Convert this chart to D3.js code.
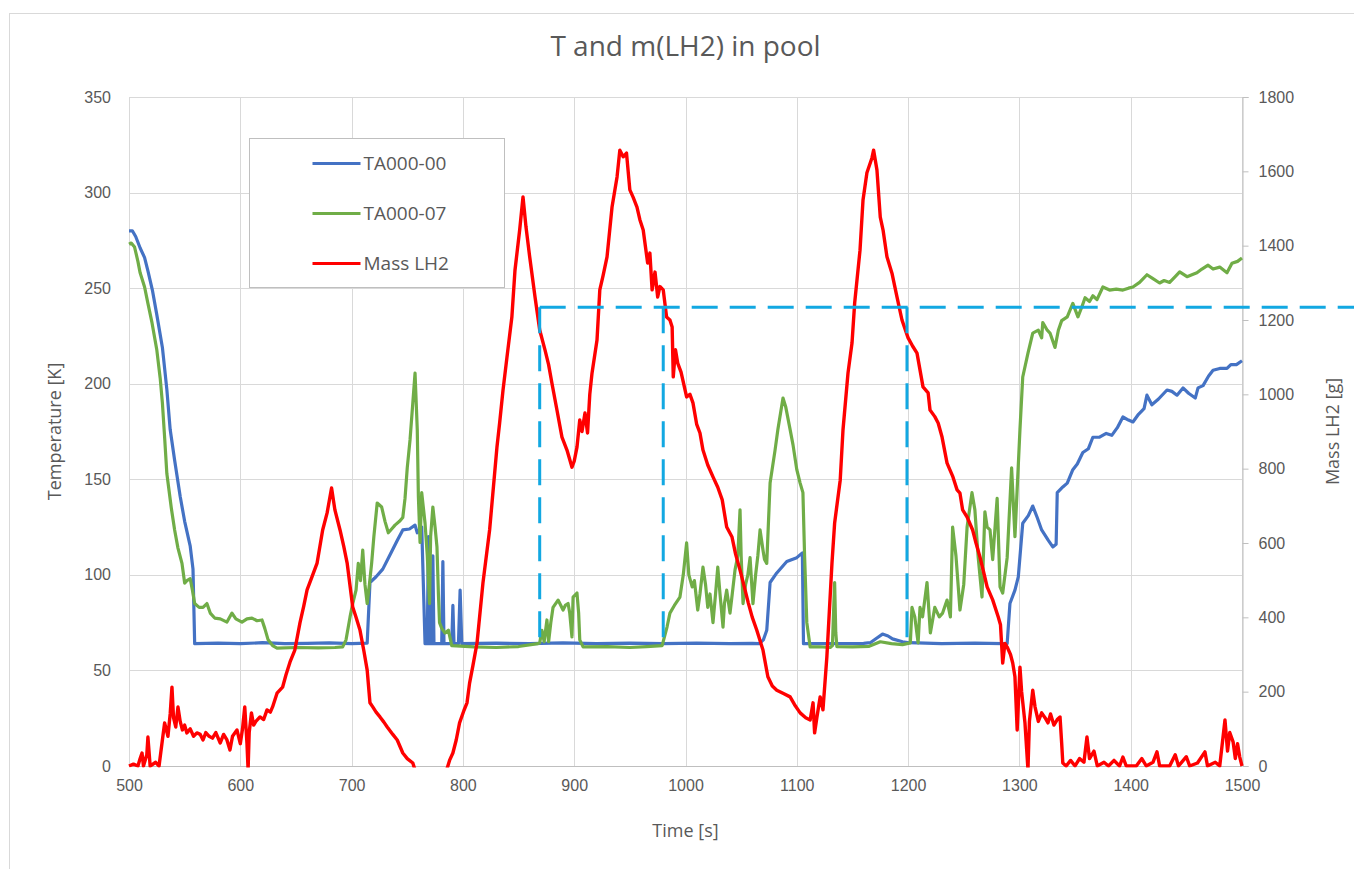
<html lang="en">
<head>
    <meta charset="UTF-8">
    <title>T and m(LH2) in pool</title>
    <script src="https://d3js.org/d3.v7.min.js"></script>
    <style>
        body { margin: 0; background: #fff; }
        svg { font-family: "Open Sans", sans-serif; }
    </style>
</head>
<body>
<script>
// data: [time s, value]
const ta00 = [[500,280],[503,280],[506,277],[510,271],[514,266],[517,259],[521,249],[525,236],[530,219],[534,197],[537,176],[541,160],[546,141],[550,128],[555,115],[557.5,103],[559,64],[580,64.3],[600,64],[620,64.5],[640,64],[660,64.2],[680,64.4],[700,64],[714,64.3],[716.5,96],[722,99],[728,103],[735,111],[741,118],[746,123.5],[752,124],[757,126],[759,122],[763,125],[766,64],[768,64],[769,120],[770,64],[772,64],[773,110],[774,64],[781,64],[782,107],[783,64],[790,64],[791,84],[792,64],[796,64],[797.5,92],[799,64],[830,64.3],[860,64],[890,64.4],[920,64],[950,64.3],[980,64],[1010,64.3],[1040,64],[1060,64.2],[1066,64],[1070,66],[1073,71],[1076,96],[1082,101],[1091,107],[1100,109],[1105,111.5],[1106,64],[1130,64],[1160,64.2],[1166,64.5],[1172,67],[1177,69],[1182,68],[1186,66.5],[1195,65],[1201,64.5],[1230,64],[1260,64.3],[1285,64],[1289,64],[1291.5,85],[1296,92],[1299,99],[1303,127],[1308,131],[1312,136],[1316,130],[1320,123.5],[1326,118],[1330,114.6],[1333,116],[1334,143],[1339,146],[1343,148],[1348,155],[1352,158],[1357,164],[1362,166],[1366,172],[1372,172],[1378,174],[1383,173],[1388,177],[1393,182.6],[1398,181],[1402,180],[1407,184],[1412,187],[1414.6,194],[1419,189],[1425,192],[1432.6,196.7],[1437,196],[1441.6,194],[1447,197.8],[1452,195],[1458,192.5],[1460.5,197.8],[1465,199],[1470,204],[1474,207],[1480,208],[1486.5,208],[1490,210],[1495,210],[1500,212]];

const ta07 = [[500,273],[502,273.6],[505,271.5],[508,264],[510,258],[514,250.6],[517,242],[520.7,231.8],[525,217.6],[528,203],[530,190],[532,172],[534,153],[538,135],[541,123.5],[544,114],[547.6,106],[550,95.7],[552,97],[555,98],[557,92],[559,85],[563,83],[566.5,83],[570,85],[573,80],[577,77.4],[582,77],[588,75.3],[592.5,80],[596,77],[601.5,75.3],[606,77],[610.5,77.4],[615,76],[619.5,76.4],[622,72],[625,66],[629,63],[633,61.7],[650,62],[670,61.8],[685,62],[692,62.3],[695,66],[698.6,78],[701,85],[704,92],[706,106],[708,97],[710,113],[712,95],[714,85],[716,95],[718,106],[720,120],[723,137.6],[727,135.5],[730,128],[733,122],[736,124],[739,126],[743,128],[746,130],[748,140],[750,156],[752.5,170.6],[755,190],[757,205.6],[759,176],[760,141],[761.5,117],[763,143],[764.5,135],[766,127],[768,110],[770,85],[771,120],[773,135.5],[775,125],[776.7,114.6],[778,90],[779,75],[781,72],[784,69.6],[787,71],[790,63],[810,62.3],[830,62],[850,62.5],[867.5,64],[869,64.4],[871,71],[873,65],[875.5,76.4],[877,65],[879,75],[881,83],[885.5,86.8],[888,84],[890,81.6],[892,84],[894.5,85],[896,80],[898,67.5],[899,88.4],[902.5,90.5],[904,80],[905,66],[908,62.3],[930,62.5],[950,62],[965,62.5],[979,63],[983.4,72.7],[986,80],[990,84],[995,88.4],[998,100],[1001,116.7],[1003,100],[1006,93.7],[1008,97],[1011,81.6],[1013,90],[1015.7,104],[1018,95],[1020,83],[1022,90],[1024.7,75],[1027,90],[1029,104],[1031,90],[1033.7,72.7],[1035,85],[1037,92],[1040,80],[1042,90],[1044.5,102.6],[1047,110],[1049,134],[1050,110],[1051.7,85],[1054,95],[1056,100],[1058,109],[1060.6,85],[1063,100],[1065,110],[1067,123.5],[1069.6,113],[1071,108],[1073,106],[1076,148],[1080.4,165],[1083,176],[1087.6,192.5],[1090,188],[1094,176],[1096.6,168],[1100,155],[1103,148],[1105.5,143],[1107,110],[1109,75],[1112,62.3],[1120,62.4],[1130,62],[1132,63],[1133,80],[1134,96],[1135,70],[1136,62.5],[1150,62.3],[1165,62.6],[1175,65],[1185,64],[1195,63.5],[1202,64.4],[1203.5,83],[1206,78],[1209,64.4],[1210.7,83],[1213,78],[1217,96],[1220,69.6],[1224,83],[1228,78],[1231,80],[1235,86.8],[1238,78],[1240,125],[1243,110],[1246.6,81.6],[1250,95],[1253,125],[1257.4,143],[1260,134],[1263,109],[1266.4,88.4],[1269,133],[1271,125],[1273.6,123.5],[1276,108],[1280,140],[1282.6,93.7],[1285,90.5],[1289,109],[1293,156],[1296,120],[1300.5,176],[1303,203.5],[1307.7,216],[1312,226.5],[1317,228],[1320,224],[1321,232],[1325,228],[1327.5,226.5],[1332,219],[1335,228],[1338,233],[1343,235],[1348,242],[1352.6,235],[1356,240],[1359,245],[1363,243],[1366,246],[1369.7,244],[1375,250.6],[1381,249],[1387,249.5],[1393,249],[1398,250],[1402,250.6],[1408,253],[1414.6,257],[1420,255],[1426,252.7],[1430,254],[1435,253],[1440,256],[1444,258.5],[1450.6,256],[1455,257],[1459.5,258],[1464,260],[1469.5,262],[1474,260],[1480,261],[1486.5,258],[1491,263],[1496,264],[1500,265.8]];

const massLH2 = [[500,0],[504,5],[508,0],[510,20],[511.7,35],[513,0],[516,30],[517,78],[519,0],[524,10],[527,0],[530,70],[532,116],[535,80],[537,140],[538.6,212],[540,130],[542,105],[544,159],[546,120],[548,97],[550,110],[552,89],[555,100],[558,80],[561,89],[564,85],[566.5,70],[569,90],[572,80],[575,75],[578,90],[582,62],[585,85],[588,70],[590.7,43],[593,80],[597,97],[600,60],[602,100],[604,159],[606,60],[607,-10],[608,90],[610,143],[612,110],[614,120],[617.7,132],[621,125],[624,151],[627,145],[629,159],[633,196],[638,212],[641,245],[644.7,280],[649,312],[653.6,385],[657,430],[660,474],[664.4,509],[669,546],[674,635],[678,681],[682,748],[685,689],[689.6,635],[693,590],[696,546],[701,428],[704,400],[707.5,366],[711,310],[714,258],[716.5,170],[719,159],[722,145],[725.5,132],[729,118],[732,105],[737,85],[741,70],[746,35],[750,20],[755,8],[758,-20],[770,-60],[782,-30],[786,-5],[788,15],[791,35],[794,70],[797,116],[801,150],[803.7,170],[806,223],[809,270],[812.7,331],[818,492],[824,635],[830.6,858],[833,923],[836,1010],[839.6,1100],[844,1208],[846.8,1334],[851,1442],[854,1531],[856.7,1450],[860,1370],[864.8,1262],[869,1173],[873.8,1119],[877,1080],[880,1030],[884.5,958],[889,885],[893.5,850],[898,804],[900,820],[902.5,858],[905,931],[907,900],[909.7,950],[912,896],[914,1000],[916,1057],[920.5,1146],[923,1281],[926,1320],[929.5,1370],[934,1504],[938.5,1585],[941,1657],[944,1639],[947,1649],[950,1550],[953,1530],[956.4,1504],[959,1470],[962,1442],[966,1353],[968,1380],[970,1281],[972.6,1329],[975,1262],[977,1290],[980,1281],[983,1208],[986,1200],[988,1181],[989,1047],[991,1120],[993,1084],[996,1060],[1001,993],[1004,1000],[1006.7,977],[1010,920],[1013,896],[1015.7,850],[1020,810],[1024.7,778],[1029,750],[1033,716],[1037,643],[1041.8,616],[1045,570],[1049,527],[1053,480],[1056.4,439],[1060,400],[1064,366],[1069.6,312],[1074,240],[1078,215],[1082,204],[1088,195],[1094,186],[1098,165],[1103,143],[1108,130],[1112,124],[1114.6,170],[1116,89],[1118,130],[1121,186],[1123.5,151],[1127,293],[1131.6,546],[1134,654],[1139,769],[1141.5,904],[1146,1057],[1149.6,1138],[1152,1246],[1156.8,1388],[1159.5,1523],[1163,1596],[1167.5,1636],[1169,1657],[1172,1604],[1175,1477],[1177.5,1442],[1181,1370],[1185.5,1326],[1190,1262],[1194.5,1200],[1200,1152],[1204,1130],[1208,1111],[1213.4,1020],[1218,1004],[1219.7,958],[1224,940],[1227,923],[1230.5,885],[1235,815],[1240,780],[1244,743],[1246.6,734],[1249,689],[1253,670],[1258,635],[1261,600],[1264.6,562],[1268,520],[1271,482],[1276,447],[1281,401],[1283,380],[1285,277],[1287,330],[1289,320],[1292,300],[1294,277],[1296,240],[1298,97],[1300.5,266],[1302,200],[1305,116],[1307.7,-10],[1309,120],[1312,204],[1314,160],[1317,120],[1320,143],[1323,130],[1325.7,116],[1328,140],[1331,110],[1334,125],[1336.5,132],[1338,60],[1339,8],[1342,0],[1346,15],[1350,0],[1354,20],[1358,10],[1360.7,78],[1363,20],[1367,40],[1370,0],[1376,10],[1380,0],[1385,15],[1390,0],[1393,24],[1396,0],[1405,0],[1410,20],[1414,0],[1420,10],[1423.6,38],[1426,0],[1435,0],[1440,30],[1443,0],[1450,25],[1453,0],[1460,8],[1466.7,38],[1469,0],[1476,10],[1480,0],[1484.7,124],[1487,40],[1489,90],[1492,65],[1494,20],[1496,60],[1498,24],[1500,0]];

// dashed marker: 240 K level and the times where it was hit
const markLevel = 240;
const markBase = 64;
const markTimes = [869, 980, 1199];

const xTicks = [500, 600, 700, 800, 900, 1000, 1100, 1200, 1300, 1400, 1500];
const tTicks = [0, 50, 100, 150, 200, 250, 300, 350];
const mTicks = [0, 200, 400, 600, 800, 1000, 1200, 1400, 1600, 1800];

const legendData = [
    { label: "TA000-00", color: "#4472C4" },
    { label: "TA000-07", color: "#70AD47" },
    { label: "Mass LH2", color: "#FF0000" }
];

const width = 1354, height = 869;
const margin = { top: 97, right: 112, bottom: 103, left: 129 };
const textColor = "#595959";

const x = d3.scaleLinear().domain([500, 1500]).range([margin.left, width - margin.right]);
const yT = d3.scaleLinear().domain([0, 350]).range([height - margin.bottom, margin.top]);
const yM = d3.scaleLinear().domain([0, 1800]).range([height - margin.bottom, margin.top]);

const svg = d3.select("body").append("svg")
    .attr("width", width)
    .attr("height", height);

svg.append("clipPath").attr("id", "plot")
    .append("rect")
    .attr("x", x(500) - 3).attr("y", yT(350) - 3)
    .attr("width", x(1500) - x(500) + 6).attr("height", yT(0) - yT(350) + 4.5);

// chart frame
svg.append("rect")
    .attr("x", 9.5).attr("y", 13.5)
    .attr("width", width + 20).attr("height", height + 20)
    .attr("fill", "none").attr("stroke", "#d9d9d9");

// gridlines
svg.append("g").selectAll("line").data(tTicks).join("line")
    .attr("x1", x(500)).attr("x2", x(1500))
    .attr("y1", d => Math.round(yT(d)) + 0.5).attr("y2", d => Math.round(yT(d)) + 0.5)
    .attr("stroke", "#d9d9d9");
svg.append("g").selectAll("line").data(xTicks).join("line")
    .attr("y1", yT(0)).attr("y2", yT(350))
    .attr("x1", d => Math.round(x(d)) + 0.5).attr("x2", d => Math.round(x(d)) + 0.5)
    .attr("stroke", "#d9d9d9");

// bottom axis line
svg.append("line")
    .attr("x1", x(500)).attr("x2", x(1500))
    .attr("y1", Math.round(yT(0)) + 0.5).attr("y2", Math.round(yT(0)) + 0.5)
    .attr("stroke", "#bfbfbf");

// right axis
const rightAxis = svg.append("g")
    .attr("transform", `translate(${Math.round(x(1500)) + 0.5},0)`)
    .call(d3.axisRight(yM).tickValues(mTicks).tickFormat(d3.format("d")).tickSize(6).tickPadding(10));
rightAxis.select(".domain").attr("stroke", "#bfbfbf");
rightAxis.selectAll(".tick line").attr("stroke", "#bfbfbf");
rightAxis.selectAll("text").attr("fill", textColor).style("font-size", "16px");

// left axis (labels only)
const leftAxis = svg.append("g")
    .attr("transform", `translate(${x(500)},0)`)
    .call(d3.axisLeft(yT).tickValues(tTicks).tickSize(0).tickPadding(18));
leftAxis.select(".domain").remove();
leftAxis.selectAll("text").attr("fill", textColor).style("font-size", "16px");

// bottom axis labels
const bottomAxis = svg.append("g")
    .attr("transform", `translate(0,${yT(0)})`)
    .call(d3.axisBottom(x).tickValues(xTicks).tickFormat(d3.format("d")).tickSize(0).tickPadding(14));
bottomAxis.select(".domain").remove();
bottomAxis.selectAll("text").attr("fill", textColor).style("font-size", "16px");

// lines
const lineT = d3.line().x(d => x(d[0])).y(d => yT(d[1]));
const lineM = d3.line().x(d => x(d[0])).y(d => yM(d[1]));

const plot = svg.append("g").attr("clip-path", "url(#plot)");
plot.append("path").datum(ta00)
    .attr("d", lineT).attr("fill", "none")
    .attr("stroke", "#4472C4").attr("stroke-width", 3.2).attr("stroke-linejoin", "round");
plot.append("path").datum(ta07)
    .attr("d", lineT).attr("fill", "none")
    .attr("stroke", "#70AD47").attr("stroke-width", 3.2).attr("stroke-linejoin", "round");
plot.append("path").datum(massLH2)
    .attr("d", lineM).attr("fill", "none")
    .attr("stroke", "#FF0000").attr("stroke-width", 3.4).attr("stroke-linejoin", "round");

// dashed marker lines
const dash = svg.append("g")
    .attr("stroke", "#12A8E2").attr("stroke-width", 3)
    .attr("stroke-dasharray", "26,12").attr("fill", "none");
dash.append("line")
    .attr("x1", x(markTimes[0])).attr("x2", width)
    .attr("y1", yT(markLevel)).attr("y2", yT(markLevel));
dash.selectAll(".v").data(markTimes).join("line")
    .attr("class", "v")
    .attr("x1", d => x(d)).attr("x2", d => x(d))
    .attr("y1", yT(markLevel)).attr("y2", yT(markBase));

// title
svg.append("text")
    .attr("x", (x(500) + x(1500)) / 2).attr("y", 56)
    .attr("text-anchor", "middle").attr("fill", textColor)
    .style("font-size", "28px")
    .text("T and m(LH2) in pool");

// axis titles
svg.append("text")
    .attr("x", (x(500) + x(1500)) / 2).attr("y", 837)
    .attr("text-anchor", "middle").attr("fill", textColor)
    .style("font-size", "18px")
    .text("Time [s]");
svg.append("text")
    .attr("transform", `translate(61,${(yT(0) + yT(350)) / 2}) rotate(-90)`)
    .attr("text-anchor", "middle").attr("fill", textColor)
    .style("font-size", "18px")
    .text("Temperature [K]");
svg.append("text")
    .attr("transform", `translate(1339,${(yT(0) + yT(350)) / 2}) rotate(-90)`)
    .attr("text-anchor", "middle").attr("fill", textColor)
    .style("font-size", "18px")
    .text("Mass LH2 [g]");

// legend
const lg = svg.append("g").attr("transform", "translate(249.5,138.5)");
lg.append("rect")
    .attr("width", 255).attr("height", 149)
    .attr("fill", "#fff").attr("stroke", "#bfbfbf");
const item = lg.selectAll("g").data(legendData).join("g")
    .attr("transform", (d, i) => `translate(0,${25 + i * 50})`);
item.append("line")
    .attr("x1", 63).attr("x2", 111)
    .attr("stroke", d => d.color).attr("stroke-width", 3);
item.append("text")
    .attr("x", 114).attr("dy", "0.36em")
    .attr("fill", textColor).style("font-size", "19px")
    .text(d => d.label);
</script>
</body>
</html>
